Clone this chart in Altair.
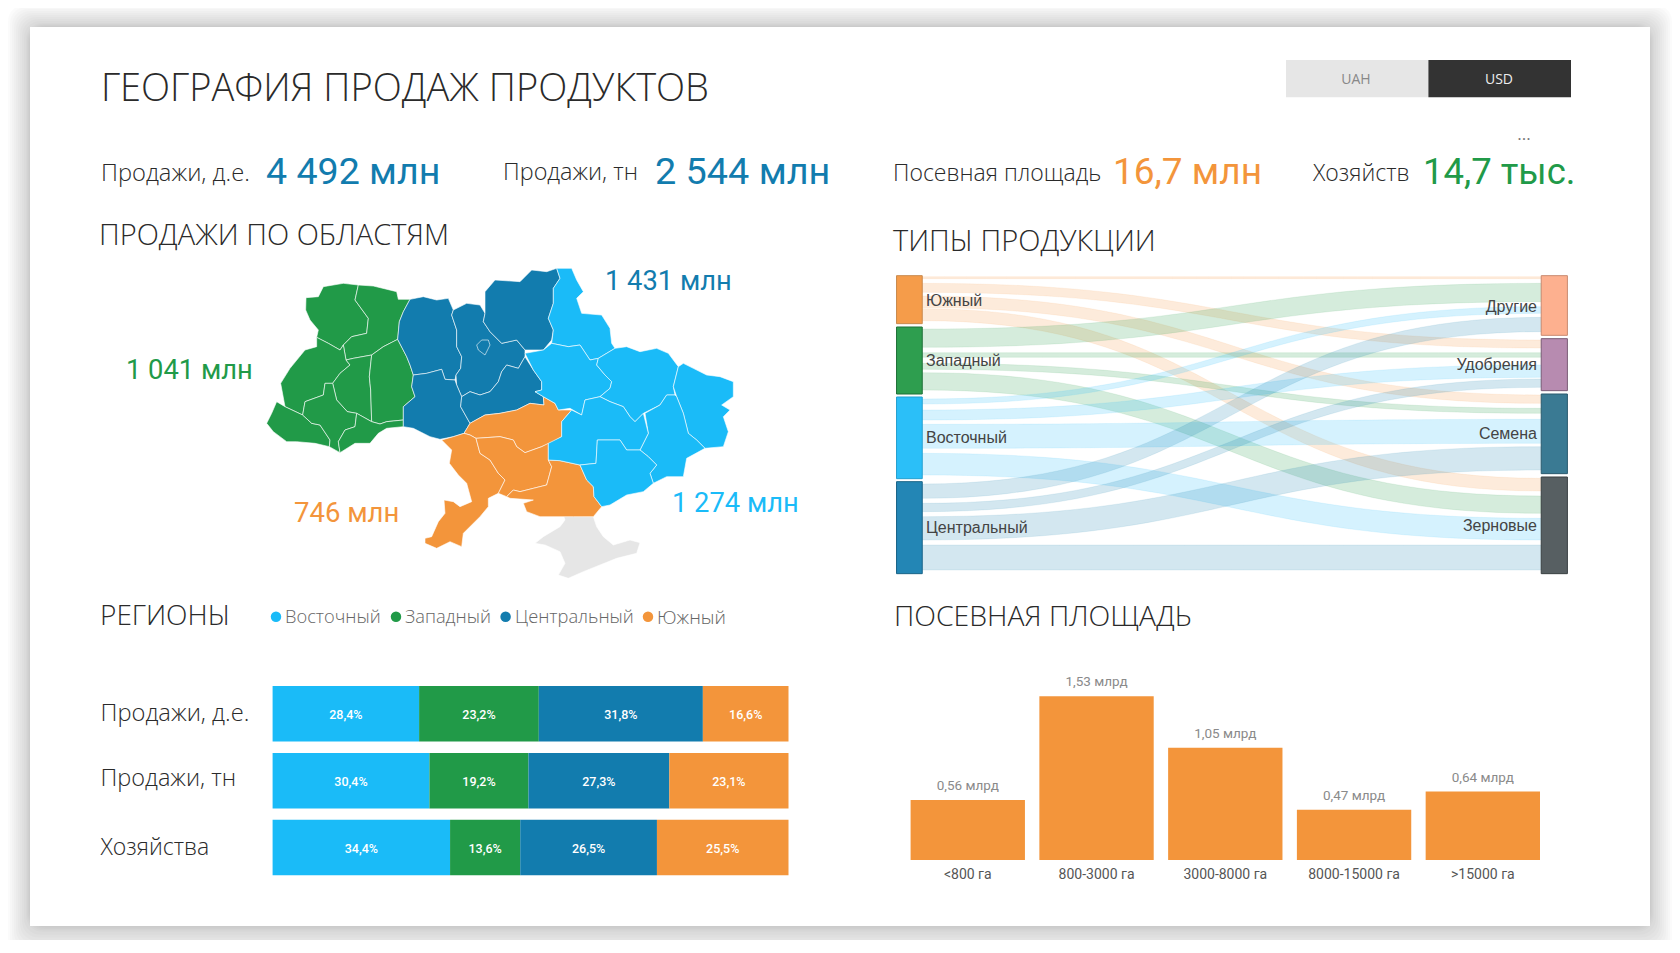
import altair as alt
import pandas as pd

# ---------- data ----------
REGIONS = ["Восточный", "Западный", "Центральный", "Южный"]
COL = {"Восточный": "#1ABBF8", "Западный": "#219A48", "Центральный": "#127CAE", "Южный": "#F3953B"}
ROWS = ["Продажи, д.е.", "Продажи, тн", "Хозяйства"]
SHARES = {
    "Продажи, д.е.": [28.4, 23.2, 31.8, 16.6],
    "Продажи, тн": [30.4, 19.2, 27.3, 23.1],
    "Хозяйства": [34.4, 13.6, 26.5, 25.5],
}
AREA_CATS = ["<800 га", "800-3000 га", "3000-8000 га", "8000-15000 га", ">15000 га"]
AREA_VALS = [0.56, 1.53, 1.05, 0.47, 0.64]

# sankey: node spans and links, measured in a 1568-wide / 1000-tall drawing space
NODES_L = [("Южный", 47, 191, "#F59C4A", "#C98A4E"), ("Западный", 201, 402, "#2E9E4F", "#1F7038"),
           ("Восточный", 411, 656, "#2BBFF8", "#25A0D0"), ("Центральный", 665, 941, "#2386B5", "#1A6488")]
NODES_R = [("Другие", 47, 226, "#FDB08F", "#C98A70"), ("Удобрения", 236, 392, "#B78BB0", "#7A5C76"),
           ("Семена", 402, 641, "#3A7A93", "#2A5A6E"), ("Зерновые", 651, 941, "#575F62", "#3A4042")]
LINKS = [
    ("Южный", 50, 56, 50, 56), ("Южный", 70, 97, 240, 264), ("Южный", 108, 143, 405, 430), ("Южный", 146, 182, 655, 693),
    ("Западный", 207, 262, 70, 125), ("Западный", 278, 292, 278, 292), ("Западный", 310, 328, 445, 460), ("Западный", 338, 390, 708, 760),
    ("Восточный", 417, 432, 140, 160), ("Восточный", 450, 480, 315, 352), ("Восточный", 493, 565, 478, 550), ("Восточный", 580, 645, 775, 840),
    ("Центральный", 672, 715, 172, 215), ("Центральный", 730, 755, 357, 382), ("Центральный", 770, 840, 560, 630), ("Центральный", 855, 930, 855, 930),
]

# map outlines (traced, in a 3x drawing space)
M_WEST = [
    [(250,110),(310,100),(355,105),(345,150),(385,205),(380,250),(335,260),(310,285),(300,300),(265,280),(230,262),(235,240),(210,210),(197,180),(198,143),(235,140)],
    [(355,105),(400,108),(470,125),(475,148),(510,148),(490,185),(478,215),(473,268),(430,290),(395,315),(340,325),(318,330),(310,285),(335,260),(380,250),(385,205),(345,150)],
    [(230,262),(265,280),(300,300),(310,285),(318,330),(330,345),(300,370),(278,400),(255,400),(250,435),(195,455),(188,495),(135,470),(122,400),(150,355),(195,300),(230,290)],
    [(330,345),(318,330),(340,325),(395,315),(388,380),(392,420),(395,515),(350,490),(322,485),(290,450),(278,400),(300,370)],
    [(395,315),(430,290),(473,268),(500,320),(510,345),(520,375),(515,410),(525,440),(490,470),(490,510),(440,515),(420,522),(395,515),(392,420),(388,380)],
    [(110,455),(135,470),(188,495),(215,520),(240,525),(270,570),(268,590),(225,580),(170,575),(140,575),(100,545),(80,520),(95,490)],
    [(195,455),(250,435),(255,400),(278,400),(290,450),(322,485),(350,490),(345,530),(315,540),(295,575),(300,608),(268,590),(270,570),(240,525),(215,520),(188,495)],
    [(350,490),(395,515),(420,522),(440,515),(490,510),(490,530),(440,535),(415,550),(390,580),(345,580),(300,608),(295,575),(315,540),(345,530)],
]
M_CENTRAL = [
    [(510,148),(550,140),(590,150),(625,145),(640,180),(635,195),(650,240),(650,290),(665,320),(662,355),(648,375),(645,390),(615,388),(605,358),(560,370),(520,375),(510,345),(500,320),(473,268),(478,215),(490,185)],
    [(640,180),(680,160),(720,165),(735,190),(730,215),(750,245),(785,280),(830,270),(855,300),(855,320),(835,355),(800,345),(785,365),(775,395),(750,425),(720,435),(690,425),(665,440),(650,405),(648,375),(662,355),(665,320),(650,290),(650,240),(635,195)],
    [(735,190),(735,125),(765,90),(840,95),(875,60),(920,65),(950,55),(960,85),(940,115),(940,160),(925,205),(940,240),(935,270),(910,300),(855,300),(830,270),(785,280),(750,245),(730,215)],
    [(520,375),(560,370),(605,358),(615,388),(645,390),(650,405),(665,440),(662,470),(690,520),(672,550),(640,560),(600,568),(570,560),(520,535),(490,530),(490,470),(525,440),(515,410)],
    [(665,440),(690,425),(720,435),(750,425),(775,395),(785,365),(800,345),(835,355),(855,320),(880,360),(905,395),(905,420),(885,425),(910,440),(912,465),(870,460),(830,480),(780,490),(735,495),(690,520),(662,470)],
    [(710,285),(725,270),(745,270),(750,285),(735,315),(715,300)],
]
M_SOUTH = [
    [(672,550),(690,520),(735,495),(780,490),(830,480),(870,460),(912,465),(910,440),(945,460),(955,480),(995,480),(965,515),(965,560),(940,575),(905,590),(855,608),(830,590),(820,570),(780,560),(708,565),(690,555)],
    [(605,570),(640,560),(672,550),(690,555),(708,565),(720,610),(750,630),(775,670),(795,690),(775,730),(745,745),(745,770),(720,800),(670,850),(665,890),(630,875),(590,895),(555,880),(555,865),(575,860),(595,815),(615,790),(612,750),(640,755),(660,770),(695,755),(680,700),(655,675),(628,640),(635,600)],
    [(708,565),(780,560),(820,570),(830,590),(855,608),(905,590),(925,580),(925,630),(935,650),(920,705),(880,715),(840,725),(820,720),(800,740),(775,730),(795,690),(775,670),(750,630),(720,610)],
    [(925,630),(960,632),(1020,645),(1040,690),(1060,710),(1062,740),(1085,770),(1060,800),(1000,800),(960,800),(900,800),(860,785),(850,760),(880,750),(810,745),(800,740),(820,720),(840,725),(880,715),(920,705),(935,650)],
]
M_EAST = [
    [(950,55),(995,55),(1010,90),(1030,125),(1010,145),(1025,190),(1085,195),(1110,235),(1115,280),(1125,295),(1075,325),(1050,330),(1020,285),(985,290),(935,280),(940,240),(925,205),(940,160),(940,115),(960,85)],
    [(855,310),(910,300),(935,280),(985,290),(1020,285),(1050,330),(1075,325),(1070,345),(1095,375),(1115,395),(1110,415),(1080,440),(1035,450),(1025,495),(990,475),(955,480),(945,460),(910,440),(885,425),(905,420),(905,395),(880,360)],
    [(1075,325),(1125,295),(1160,290),(1200,305),(1250,295),(1285,310),(1315,350),(1300,410),(1305,435),(1280,435),(1260,465),(1210,490),(1185,515),(1170,500),(1150,470),(1110,455),(1080,440),(1110,415),(1115,395),(1095,375),(1070,345)],
    [(1315,350),(1330,340),(1360,355),(1400,375),(1440,380),(1480,395),(1480,440),(1445,465),(1470,480),(1450,500),(1465,545),(1450,590),(1395,595),(1370,570),(1345,550),(1330,490),(1310,440),(1300,410)],
    [(1305,435),(1310,440),(1330,490),(1345,550),(1370,570),(1395,595),(1340,625),(1330,680),(1280,680),(1240,700),(1230,670),(1250,645),(1225,620),(1200,600),(1225,550),(1215,490),(1260,465),(1280,435)],
    [(1025,495),(1035,450),(1080,440),(1110,455),(1150,470),(1170,500),(1185,515),(1210,490),(1225,550),(1200,600),(1160,600),(1140,570),(1072,570),(1068,640),(1020,645),(960,632),(925,630),(925,580),(965,560),(965,515),(995,480)],
    [(1020,645),(1068,640),(1072,570),(1140,570),(1160,600),(1200,600),(1225,620),(1250,645),(1230,670),(1240,700),(1210,725),(1160,735),(1110,765),(1085,770),(1062,740),(1060,710),(1040,690)],
]
M_CRIMEA = [(970,795),(1060,800),(1070,830),(1090,860),(1120,885),(1170,870),(1200,878),(1190,910),(1130,925),(1080,945),(1030,965),(985,985),(955,975),(975,940),(960,905),(915,885),(885,880),(910,860),(960,830),(975,810)]

SHADOW = [(s, s * 1.45) for s in [22, 20, 18, 16, 14, 12, 10, 8, 6, 4, 3, 2, 1]]

# ---------- helpers ----------
ONE = pd.DataFrame({"a": [0]})
def T(s, x, y, size, color, font="Open Sans", weight=400, align="left", **kw):
    return alt.Chart(ONE).mark_text(text=s, font=font, fontSize=size, color=color, fontWeight=weight,
                                    align=align, baseline="middle", **kw).encode(
        x=alt.value(x - 8), y=alt.value(y - 8))

PX = alt.Scale(domain=[0, 1680], range=[-8, 1672])
PY = alt.Scale(domain=[0, 953], range=[-8, 945])
layers = []

# ---------- card and its shadow ----------
sh = pd.DataFrame([{"x": 30 - s, "x2": 1650 + s, "y": 27 - s, "y2": 926 + b} for s, b in SHADOW])
layers.append(alt.Chart(sh).mark_rect(color="#000000", opacity=0.016, cornerRadius=16).encode(
    x=alt.X("x:Q", scale=PX, axis=None), x2="x2:Q", y=alt.Y("y:Q", scale=PY, axis=None), y2="y2:Q"))
card = pd.DataFrame([{"x": 30, "x2": 1650, "y": 27, "y2": 926}])
layers.append(alt.Chart(card).mark_rect(color="#FFFFFF").encode(
    x=alt.X("x:Q", scale=PX, axis=None), x2="x2:Q", y=alt.Y("y:Q", scale=PY, axis=None), y2="y2:Q"))

# ---------- header ----------
tog = pd.DataFrame([{"x": 1286, "x2": 1428.4, "y": 60, "y2": 97.3, "c": "#E6E6E6"},
                    {"x": 1428.4, "x2": 1571, "y": 60, "y2": 97.3, "c": "#333333"}])
layers.append(alt.Chart(tog).mark_rect().encode(
    x=alt.X("x:Q", scale=PX, axis=None), x2="x2:Q", y=alt.Y("y:Q", scale=PY, axis=None), y2="y2:Q",
    color=alt.Color("c:N", scale=None)))
DARK = "#2A2A2A"
layers += [
    T("ГЕОГРАФИЯ ПРОДАЖ ПРОДУКТОВ", 101, 90, 38, DARK, weight=300),
    T("UAH", 1356, 79.5, 14, "#888888", align="center"),
    T("USD", 1499, 79.5, 14, "#EEEEEE", align="center"),
    T("...", 1524, 135, 17, "#777777", align="center"),
    T("Продажи, д.е.", 101, 173.5, 23.7, DARK, weight=300),
    T("4 492 млн", 266, 173, 37.6, COL["Центральный"], font="Roboto"),
    T("Продажи, тн", 503, 172.5, 23.4, DARK, weight=300),
    T("2 544 млн", 655, 173, 37.8, COL["Центральный"], font="Roboto"),
    T("Посевная площадь", 893, 173.5, 23, DARK, weight=300),
    T("16,7 млн", 1113, 173, 37, COL["Южный"], font="Roboto"),
    T("Хозяйств", 1313, 173.5, 23, DARK, weight=300),
    T("14,7 тыс.", 1423, 173, 36.5, COL["Западный"], font="Roboto"),
    T("ПРОДАЖИ ПО ОБЛАСТЯМ", 99, 236, 29, DARK, weight=300),
    T("ТИПЫ ПРОДУКЦИИ", 893, 241.5, 29, DARK, weight=300),
    T("РЕГИОНЫ", 100, 616.5, 28, DARK, weight=300),
    T("ПОСЕВНАЯ ПЛОЩАДЬ", 894, 616.5, 28.4, DARK, weight=300),
]

# ---------- map ----------
def feat(poly, fill):
    ring = [list(p) for p in poly] + [list(poly[0])]
    return {"type": "Feature", "properties": {"fill": fill}, "geometry": {"type": "Polygon", "coordinates": [ring]}}
features = [feat(M_CRIMEA, "#E6E6E6")]
for polys, name in [(M_WEST, "Западный"), (M_CENTRAL, "Центральный"), (M_SOUTH, "Южный"), (M_EAST, "Восточный")]:
    features += [feat(p, COL[name]) for p in polys]
layers.append(alt.Chart(alt.Data(values=features)).mark_geoshape(stroke="#FFFFFF", strokeWidth=0.8, strokeOpacity=0.75).encode(
    color=alt.Color("properties.fill:N", scale=None)).project(type="identity", scale=1 / 3, translate=[240 - 8, 250 - 8]))
layers += [
    T("1 431 млн", 605, 281.5, 27.3, COL["Центральный"], font="Roboto"),
    T("1 041 млн", 126, 370.5, 27.3, COL["Западный"], font="Roboto"),
    T("746 млн", 294, 514, 27.5, COL["Южный"], font="Roboto"),
    T("1 274 млн", 672, 504, 27.3, COL["Восточный"], font="Roboto"),
]

# ---------- sankey ----------
SX = alt.Scale(domain=[0, 1568], range=[880 - 8, 1600 - 8])
SY = alt.Scale(domain=[0, 1000], range=[260 - 8, 260 + 1000 / 3 - 8])
rows = []
left_color = {n[0]: n[3] for n in NODES_L}
for i, (src, a0, a1, b0, b1) in enumerate(LINKS):
    for k in range(41):
        t = k / 40
        xt = 1.5 * (1 - t) ** 2 * t + 1.5 * (1 - t) * t ** 2 + t ** 3
        s = 3 * t ** 2 - 2 * t ** 3
        rows.append({"link": i, "x": 92 + (1440 - 92) * xt, "y0": a0 + (b0 - a0) * s, "y1": a1 + (b1 - a1) * s,
                     "c": left_color[src]})
layers.append(alt.Chart(pd.DataFrame(rows)).mark_area(fillOpacity=0.2, strokeOpacity=0.1, strokeWidth=1).encode(
    x=alt.X("x:Q", scale=SX, axis=None), y=alt.Y("y0:Q", scale=SY, axis=None), y2="y1:Q",
    color=alt.Color("c:N", scale=None), stroke=alt.Color("c:N", scale=None), detail="link:N"))
nodes = pd.DataFrame(
    [{"x": 36, "x2": 92, "y": a, "y2": b, "c": c, "s": st} for _, a, b, c, st in NODES_L] +
    [{"x": 1440, "x2": 1497, "y": a, "y2": b, "c": c, "s": st} for _, a, b, c, st in NODES_R])
layers.append(alt.Chart(nodes).mark_rect(strokeWidth=1).encode(
    x=alt.X("x:Q", scale=SX, axis=None), x2="x2:Q", y=alt.Y("y:Q", scale=SY, axis=None), y2="y2:Q",
    color=alt.Color("c:N", scale=None), stroke=alt.Color("s:N", scale=None)))
SK = "#444444"
SF = "Liberation Sans"
layers += [
    T("Южный", 926, 301, 16, SK, font=SF), T("Западный", 926, 361, 16, SK, font=SF),
    T("Восточный", 926, 438, 16, SK, font=SF), T("Центральный", 926, 528, 16, SK, font=SF),
    T("Другие", 1537, 307, 16, SK, font=SF, align="right"), T("Удобрения", 1537, 365, 16, SK, font=SF, align="right"),
    T("Семена", 1537, 434, 16, SK, font=SF, align="right"), T("Зерновые", 1537, 526, 16, SK, font=SF, align="right"),
]

# ---------- legend ----------
leg = pd.DataFrame({"x": [276, 396, 505.6, 648], "y": [616.7] * 4, "c": [COL[r] for r in REGIONS]})
layers.append(alt.Chart(leg).mark_circle(size=110, opacity=1).encode(
    x=alt.X("x:Q", scale=PX, axis=None), y=alt.Y("y:Q", scale=PY, axis=None), color=alt.Color("c:N", scale=None)))
for r, x, size in zip(REGIONS, [285, 405, 515, 657], [18.3, 18.3, 18.3, 19]):
    layers.append(T(r, x, 618, size, "#666666", weight=300))

# ---------- stacked bars ----------
recs = []
for row in ROWS:
    acc = 0
    for reg, v in zip(REGIONS, SHARES[row]):
        recs.append({"row": row, "reg": reg, "x0": acc, "x1": acc + v, "mid": acc + v / 2,
                     "lab": f"{v:.1f}%".replace(".", ","), "c": COL[reg]})
        acc += v
bdf = pd.DataFrame(recs)
BX = alt.Scale(domain=[0, 100], range=[272.6 - 8, 788.5 - 8])
BY = alt.Scale(type="band", domain=ROWS, range=[686 - 8, 875.3 - 8], paddingInner=0.17, paddingOuter=0)
layers.append(alt.Chart(bdf).mark_bar().encode(
    x=alt.X("x0:Q", scale=BX, axis=None), x2="x1:Q", y=alt.Y("row:N", scale=BY, axis=None),
    color=alt.Color("c:N", scale=None)))
layers.append(alt.Chart(bdf).mark_text(font="Roboto", fontSize=12.5, fontWeight=500, color="#FFFFFF", dy=1).encode(
    x=alt.X("mid:Q", scale=BX, axis=None), y=alt.Y("row:N", scale=BY, axis=None), text="lab:N"))
for row, y, size in zip(ROWS, [713.5, 779, 847.7], [23.7, 23.5, 23]):
    layers.append(T(row, 100.5, y, size, DARK, weight=300))

# ---------- area columns ----------
adf = pd.DataFrame({"cat": AREA_CATS, "v": AREA_VALS,
                    "lab": [f"{v:.2f} млрд".replace(".", ",") for v in AREA_VALS]})
CX = alt.Scale(type="band", domain=AREA_CATS, range=[910.6 - 8, 1540 - 8], paddingInner=0.112, paddingOuter=0)
CY = alt.Scale(domain=[0, 1.53], range=[860 - 8, 696.3 - 8])
layers.append(alt.Chart(adf).mark_bar(color=COL["Южный"]).encode(
    x=alt.X("cat:N", scale=CX, axis=None), y=alt.Y("v:Q", scale=CY, axis=None)))
layers.append(alt.Chart(adf).mark_text(font="Roboto", fontSize=13.5, color="#8A8A8A", dy=-14).encode(
    x=alt.X("cat:N", scale=CX, axis=None), y=alt.Y("v:Q", scale=CY, axis=None), text="lab:N"))
adf2 = adf.assign(base=0)
layers.append(alt.Chart(adf2).mark_text(font="Roboto", fontSize=14, color="#555555", dy=15).encode(
    x=alt.X("cat:N", scale=CX, axis=None), y=alt.Y("base:Q", scale=CY, axis=None), text="cat:N"))

chart = alt.layer(*layers).resolve_scale(x="independent", y="independent", color="independent", stroke="independent").properties(
    width=1664, height=932, padding=0, autosize=alt.AutoSizeParams(type="none"), background="#FFFFFF"
).configure_view(stroke=None)
chart.save("out.html", embed_options={"renderer": "svg", "actions": False})
